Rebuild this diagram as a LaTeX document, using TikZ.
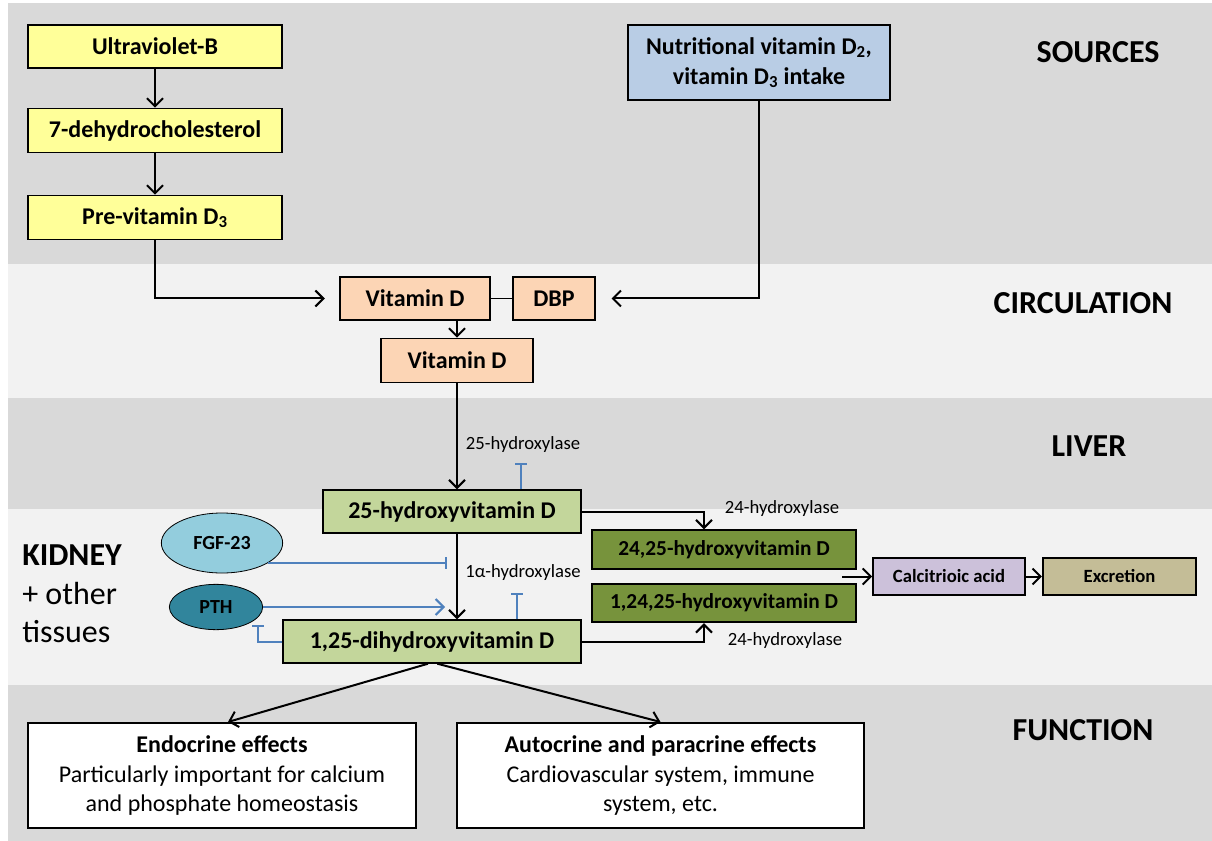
\documentclass[tikz,border=0pt]{standalone}
\usepackage{fontspec}
\setmainfont{Carlito}
\usetikzlibrary{arrows.meta,shapes.geometric}

\definecolor{banddark}{HTML}{D9D9D9}
\definecolor{bandlight}{HTML}{F2F2F2}
\definecolor{srcyellow}{HTML}{FFFF99}
\definecolor{nutrblue}{HTML}{B9CDE5}
\definecolor{peach}{HTML}{FCD5B5}
\definecolor{lightgreen}{HTML}{C3D69B}
\definecolor{darkgreen}{HTML}{77933C}
\definecolor{lavender}{HTML}{CCC1DA}
\definecolor{tan}{HTML}{C4BD97}
\definecolor{fgfblue}{HTML}{93CDDD}
\definecolor{pthteal}{HTML}{31859C}
\definecolor{inhblue}{HTML}{4F81BD}

\begin{document}
\begin{tikzpicture}
  [x=0.75pt,y=-0.75pt,
   box/.style={draw,line width=1.3pt,inner sep=2pt,align=center,font=\fontsize{18}{22.5}\selectfont\bfseries},
   smallbox/.style={box,font=\fontsize{14}{17}\selectfont\bfseries},
   oval/.style={ellipse,draw,line width=0.6pt,inner sep=0pt,font=\fontsize{15}{18}\selectfont\bfseries},
   lbl/.style={inner sep=0pt,font=\fontsize{14}{17}\selectfont},
   band/.style={inner sep=0pt,font=\fontsize{24}{29}\selectfont\bfseries},
   arr/.style={line width=1.5pt,-{Straight Barb[length=6pt,width=12pt]}},
   inhib/.style={line width=1.5pt,inhblue,-{Bar[width=9pt]}},
   act/.style={line width=1.5pt,inhblue,-{Straight Barb[length=6pt,width=12pt]}}]

  % background bands
  \fill[white] (0,0) rectangle (1212,841);
  \fill[banddark] (8,3) rectangle (1212,264);
  \fill[bandlight] (8,264) rectangle (1212,398);
  \fill[banddark] (8,398) rectangle (1212,509);
  \fill[bandlight] (8,509) rectangle (1212,685);
  \fill[banddark] (8,685) rectangle (1212,841);
  \useasboundingbox (0,0) rectangle (1212,841);

  \node[band] (sources) at (1098,52) {SOURCES};
  \node[band] (circ) at (1083,303) {CIRCULATION};
  \node[band] (liver) at (1089,446) {LIVER};
  \node[band] (func) at (1083,730) {FUNCTION};
  \node[anchor=west,align=left,inner sep=0pt,font=\fontsize{24}{29}\selectfont] (kidney) at (22,594)
    {\textbf{KIDNEY}\\+ other\\tissues};

  % sources
  \node[box,fill=srcyellow,minimum width=190pt,minimum height=32pt] (uvb) at (155,46.5) {Ultraviolet-B};
  \node[box,fill=srcyellow,minimum width=190pt,minimum height=33pt] (dhc) at (155,130.5) {7-dehydrocholesterol};
  \node[box,fill=srcyellow,minimum width=190pt,minimum height=33pt] (pre) at (155,217.5) {Pre-vitamin D\textsubscript{3}};
  \node[box,fill=nutrblue,minimum width=196pt,minimum height=56pt] (nutr) at (759,62.5)
    {Nutritional vitamin D\textsubscript{2},\\vitamin D\textsubscript{3} intake};

  % circulation
  \node[box,fill=peach,minimum width=112pt,minimum height=32pt] (vitd) at (415,298.5) {Vitamin D};
  \node[box,fill=peach,minimum width=61pt,minimum height=32pt] (dbp) at (554,298.5) {DBP};
  \node[box,fill=peach,minimum width=114pt,minimum height=33pt] (vitdb) at (457,360.5) {Vitamin D};

  % liver and kidney
  \node[box,fill=lightgreen,minimum width=193pt,minimum height=32pt] (hyd25) at (452,511.5) {25-hydroxyvitamin D};
  \node[box,fill=lightgreen,minimum width=223pt,minimum height=32pt] (dih) at (432,641.5) {1,25-dihydroxyvitamin D};
  \node[box,fill=darkgreen,minimum width=198pt,minimum height=29pt,font=\fontsize{16}{19}\selectfont\bfseries] (h2425) at (724,549.5) {24,25-hydroxyvitamin D};
  \node[box,fill=darkgreen,minimum width=198pt,minimum height=29pt,font=\fontsize{16}{19}\selectfont\bfseries] (h12425) at (724,603) {1,24,25-hydroxyvitamin D};
  \node[smallbox,fill=lavender,minimum width=114pt,minimum height=28pt] (calc) at (949,576.5) {Calcitrioic acid};
  \node[smallbox,fill=tan,minimum width=115pt,minimum height=28pt] (excr) at (1119.5,576.5) {Excretion};
  \node[oval,fill=fgfblue,minimum width=91pt,minimum height=45pt] (fgf) at (222,543) {FGF-23};
  \node[oval,fill=pthteal,minimum width=70pt,minimum height=34pt] (pth) at (216,607) {PTH};

  % function
  \node[box,fill=white,minimum width=291pt,minimum height=79pt,font=\fontsize{18}{22}\selectfont] (endo) at (222,775.5)
    {\textbf{Endocrine effects}\\Particularly important for calcium\\and phosphate homeostasis};
  \node[box,fill=white,minimum width=305pt,minimum height=79pt,font=\fontsize{18}{22}\selectfont] (auto) at (660.5,775.5)
    {\textbf{Autocrine and paracrine effects}\\Cardiovascular system, immune\\system, etc.};

  \node[lbl] (l25) at (523,445) {25-hydroxylase};
  \node[lbl] (l1a) at (523,573) {1α-hydroxylase};
  \node[lbl] (l24a) at (782,509) {24-hydroxylase};
  \node[lbl] (l24b) at (785,641) {24-hydroxylase};

  \coordinate (t25) at (521,463);
  \coordinate (t1a) at (517,593);
  \coordinate (tfgf) at (447,563);
  \coordinate (tpth) at (445,603);
  \coordinate (tdih) at (258,625);
  \coordinate (mix) at (842,576.5);

  \draw[arr] (uvb) -- (dhc);
  \draw[arr] (dhc) -- (pre);
  \draw[arr,shorten >=11pt] (pre.south) |- (vitd.west);
  \draw[arr,shorten >=12pt] (nutr.south) |- (dbp.east);
  \draw[line width=0.9pt] (vitd) -- (dbp);
  \draw[arr] (vitdb.north |- vitd.south) -- (vitdb.north);
  \draw[arr] (vitdb.south) -- (vitdb.south |- hyd25.north);
  \draw[arr] (vitdb.south |- hyd25.south) -- (vitdb.south |- dih.north);

  \draw[inhib] (hyd25.north -| t25) -- (t25);
  \draw[inhib] (dih.north -| t1a) -- (t1a);
  \draw[inhib] (fgf.-24) -- (fgf.-24 -| tfgf);
  \draw[act] (pth.east) -- (pth.east -| tpth);
  \draw[inhib] (dih.west) -| (tdih);

  \draw[arr] (hyd25.east) -| ([xshift=-15pt]h2425.north);
  \draw[arr] (dih.east) -| ([xshift=-15pt]h12425.south);
  \draw[arr] (mix) -- (calc);
  \draw[arr] (calc) -- (excr);

  \draw[arr] ([xshift=-3pt]dih.south) -- ([xshift=4.5pt]endo.north);
  \draw[arr] ([xshift=4pt]dih.south) -- (auto.north);
\end{tikzpicture}
\end{document}
